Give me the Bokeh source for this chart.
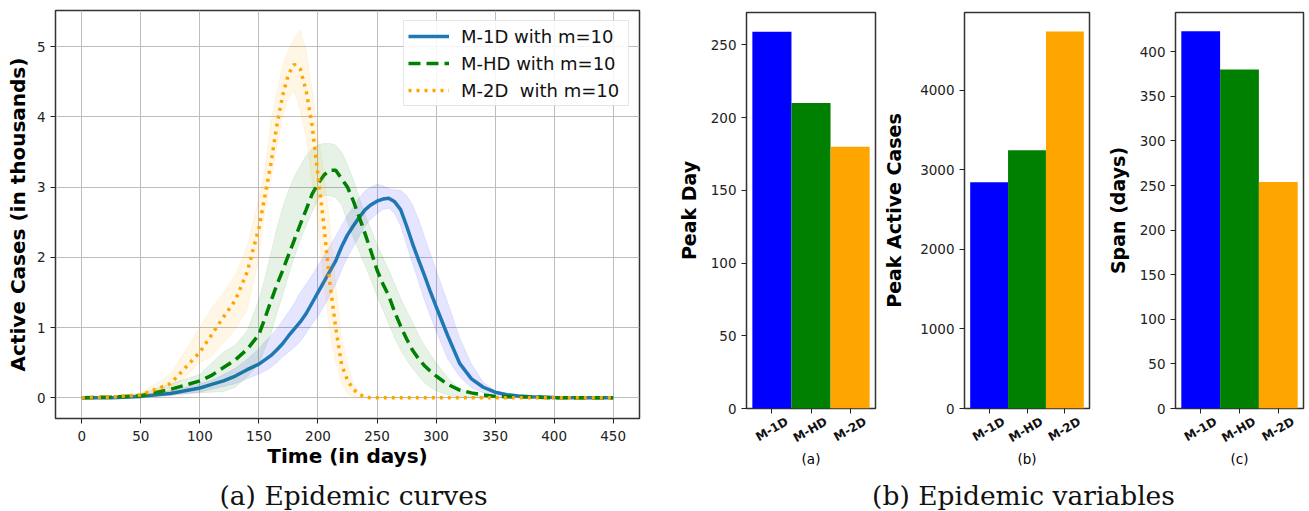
import math
from bokeh.plotting import figure
from bokeh.layouts import row, column
from bokeh.models import Range1d, FixedTicker, Label, LinearAxis
from bokeh.embed import file_html
from bokeh.resources import INLINE

# ---------------- data ----------------
days = [0, 25, 50, 75, 100, 110, 120, 130, 140, 150,
        155, 160, 165, 170, 175, 180, 185, 190, 195, 200,
        205, 210, 215, 220, 225, 230, 235, 240, 245, 250,
        255, 260, 265, 270, 275, 280, 285, 290, 295, 300,
        310, 320, 330, 340, 350, 360, 370, 380, 400, 425, 450]

m1d_mean = [0.0, 0.0, 0.02, 0.06, 0.14, 0.19, 0.24, 0.31, 0.40, 0.48,
            0.54, 0.60, 0.68, 0.77, 0.88, 0.98, 1.08, 1.20, 1.35, 1.50,
            1.65, 1.80, 1.95, 2.15, 2.32, 2.45, 2.57, 2.68, 2.75, 2.80,
            2.83, 2.84, 2.79, 2.68, 2.45, 2.20, 1.97, 1.75, 1.52, 1.30,
            0.88, 0.49, 0.27, 0.15, 0.08, 0.045, 0.025, 0.015, 0.005, 0.0, 0.0]
m1d_upper = [0.0, 0.01, 0.04, 0.10, 0.20, 0.25, 0.33, 0.42, 0.55, 0.70,
             0.80, 0.88, 0.98, 1.10, 1.22, 1.35, 1.50, 1.62, 1.75, 1.88,
             2.02, 2.16, 2.30, 2.45, 2.60, 2.72, 2.85, 2.95, 3.00, 3.04,
             3.02, 2.98, 2.96, 2.96, 2.88, 2.75, 2.55, 2.30, 2.06, 1.82,
             1.35, 0.85, 0.48, 0.22, 0.10, 0.06, 0.03, 0.02, 0.01, 0.0, 0.0]
m1d_lower = [0.0, 0.0, 0.01, 0.03, 0.08, 0.12, 0.16, 0.20, 0.27, 0.34,
             0.38, 0.43, 0.50, 0.58, 0.65, 0.72, 0.80, 0.92, 1.05, 1.16,
             1.30, 1.45, 1.62, 1.82, 2.00, 2.15, 2.30, 2.45, 2.55, 2.62,
             2.68, 2.70, 2.62, 2.45, 2.18, 1.92, 1.66, 1.40, 1.17, 0.95,
             0.55, 0.30, 0.14, 0.07, 0.03, 0.02, 0.01, 0.0, 0.0, 0.0, 0.0]

mhd_mean = [0.0, 0.01, 0.03, 0.12, 0.24, 0.32, 0.43, 0.54, 0.69, 0.90,
            1.13, 1.37, 1.60, 1.81, 2.03, 2.25, 2.47, 2.68, 2.90, 3.05,
            3.17, 3.24, 3.24, 3.12, 3.00, 2.80, 2.57, 2.33, 2.08, 1.82,
            1.62, 1.45, 1.22, 1.02, 0.84, 0.68, 0.56, 0.46, 0.38, 0.31,
            0.19, 0.11, 0.07, 0.04, 0.02, 0.015, 0.01, 0.01, 0.0, 0.0, 0.0]
mhd_upper = [0.0, 0.02, 0.06, 0.20, 0.33, 0.50, 0.65, 0.75, 0.95, 1.40,
             1.70, 2.05, 2.40, 2.70, 2.95, 3.15, 3.30, 3.45, 3.55, 3.60,
             3.62, 3.62, 3.60, 3.50, 3.32, 3.10, 2.85, 2.60, 2.40, 2.18,
             2.00, 1.82, 1.62, 1.42, 1.24, 1.08, 0.90, 0.75, 0.62, 0.50,
             0.28, 0.13, 0.06, 0.02, 0.01, 0.0, 0.0, 0.0, 0.0, 0.0, 0.0]
mhd_lower = [0.0, 0.0, 0.01, 0.05, 0.07, 0.08, 0.09, 0.15, 0.30, 0.48,
             0.70, 0.90, 1.20, 1.45, 1.75, 2.00, 2.25, 2.45, 2.65, 2.82,
             2.88, 2.88, 2.85, 2.75, 2.50, 2.28, 2.08, 1.88, 1.67, 1.45,
             1.25, 1.05, 0.85, 0.68, 0.54, 0.42, 0.31, 0.22, 0.15, 0.10,
             0.04, 0.01, 0.0, 0.0, 0.0, 0.0, 0.0, 0.0, 0.0, 0.0, 0.0]

m2d_mean = [0.0, 0.01, 0.04, 0.20, 0.65, 0.90, 1.15, 1.39, 1.79, 2.42,
            2.87, 3.32, 3.86, 4.30, 4.61, 4.75, 4.68, 4.37, 3.88, 3.17,
            2.45, 1.64, 1.00, 0.47, 0.25, 0.12, 0.05, 0.01, 0.0, 0.0,
            0.0, 0.0, 0.0, 0.0, 0.0, 0.0, 0.0, 0.0, 0.0, 0.0,
            0.0, 0.0, 0.0, 0.0, 0.0, 0.0, 0.0, 0.0, 0.0, 0.0, 0.0]
m2d_upper = [0.0, 0.02, 0.07, 0.33, 1.00, 1.28, 1.50, 1.75, 2.15, 2.85,
             3.25, 3.90, 4.35, 4.72, 4.95, 5.12, 5.24, 4.95, 4.40, 3.75,
             3.20, 2.50, 1.60, 0.85, 0.48, 0.22, 0.08, 0.02, 0.0, 0.0,
             0.0, 0.0, 0.0, 0.0, 0.0, 0.0, 0.0, 0.0, 0.0, 0.0,
             0.0, 0.0, 0.0, 0.0, 0.0, 0.0, 0.0, 0.0, 0.0, 0.0, 0.0]
m2d_lower = [0.0, 0.0, 0.02, 0.10, 0.50, 0.60, 0.78, 0.98, 1.25, 2.00,
             2.65, 3.10, 3.55, 4.00, 4.28, 4.35, 4.10, 3.70, 3.10, 2.45,
             1.60, 0.95, 0.50, 0.20, 0.06, 0.02, 0.0, 0.0, 0.0, 0.0,
             0.0, 0.0, 0.0, 0.0, 0.0, 0.0, 0.0, 0.0, 0.0, 0.0,
             0.0, 0.0, 0.0, 0.0, 0.0, 0.0, 0.0, 0.0, 0.0, 0.0, 0.0]

x_ticks = [0, 50, 100, 150, 200, 250, 300, 350, 400, 450]
y_ticks = [0, 1, 2, 3, 4, 5]

methods = ["M-1D", "M-HD", "M-2D"]
bar_pos = [0, 1, 2]
peak_day = [259, 210, 180]
peak_active = [2842, 3243, 4735]
span_days = [423, 380, 254]
bar_colors = ["#0000ff", "#008000", "#ffa500"]

FONT = "DejaVu Sans"
SERIF = "DejaVu Serif"
TOP_H = 470


def no_frame_align(p):
    try:
        p.frame_align = False
    except Exception:
        pass


def style_axes(p, tick_font="13.5px"):
    for ax in p.axis:
        ax.axis_line_color = None
        ax.major_tick_out = 5
        ax.major_tick_in = 0
        ax.minor_tick_line_color = None
        ax.major_tick_line_color = "#222222"
        ax.major_label_text_font = FONT
        ax.major_label_text_font_size = tick_font
        ax.major_label_text_color = "#222222"
        ax.major_label_standoff = 5
        ax.axis_label_text_font = FONT
        ax.axis_label_text_font_style = "bold"
        ax.axis_label_text_color = "black"
    p.outline_line_color = "#333333"
    p.outline_line_width = 1.5
    p.outline_line_alpha = 1.0
    p.background_fill_color = "white"
    p.border_fill_color = "white"


# ---------------- left: epidemic curves ----------------
pl = figure(width=650, height=TOP_H, title=None,
            x_range=Range1d(-22.3, 472.3), y_range=Range1d(-0.295, 5.515),
            output_backend="svg", toolbar_location=None,
            min_border_left=55, min_border_right=11,
            min_border_top=10, min_border_bottom=TOP_H - 418)
no_frame_align(pl)
style_axes(pl)
pl.xaxis.ticker = FixedTicker(ticks=x_ticks)
pl.yaxis.ticker = FixedTicker(ticks=y_ticks)
pl.xgrid.ticker = FixedTicker(ticks=x_ticks)
pl.ygrid.ticker = FixedTicker(ticks=y_ticks)
for g in (pl.xgrid, pl.ygrid):
    g.grid_line_color = "#bdbdbd"
    g.grid_line_width = 1
pl.xaxis.axis_label = "Time (in days)"
pl.yaxis.axis_label = "Active Cases (in thousands)"
pl.xaxis.axis_label_text_font_size = "20px"
pl.yaxis.axis_label_text_font_size = "20px"
pl.xaxis.major_label_standoff = 7
pl.xaxis.axis_label_standoff = 0
pl.yaxis.axis_label_standoff = 4

series = [
    (m1d_mean, m1d_lower, m1d_upper, "#0000ff", "#1f77b4", "solid", "M-1D with m=10"),
    (mhd_mean, mhd_lower, mhd_upper, "#008000", "#008000", "12 6", "M-HD with m=10"),
    (m2d_mean, m2d_lower, m2d_upper, "#ffa500", "#ffa500", "3 5", "M-2D  with m=10"),
]
for mean, lo, hi, band_col, line_col, dash, lab in series:
    pl.varea(x=days, y1=lo, y2=hi, fill_color=band_col, fill_alpha=0.1)
    pl.line(x=days, y=lo, line_color=band_col, line_alpha=0.08, line_width=1)
    pl.line(x=days, y=hi, line_color=band_col, line_alpha=0.08, line_width=1)
    pl.line(x=days, y=mean, line_color=line_col, line_width=3.5,
            line_dash=dash, legend_label=lab)

lg = pl.legend[0]
lg.location = "top_right"
lg.margin = 10
lg.padding = 4
lg.spacing = 5
lg.glyph_width = 41
lg.glyph_height = 22
lg.label_height = 22
lg.label_width = 163
lg.label_standoff = 12
lg.label_text_font = FONT
lg.label_text_font_size = "18px"
lg.label_text_color = "#111111"
lg.border_line_color = "#cccccc"
lg.border_line_width = 1
lg.background_fill_alpha = 0.85


# ---------------- right: bar panels ----------------
LABEL_SHIFT = 0.39   # moves the rotated names so they are centred under the ticks


def bar_fig(vals, ymax, ticks, ylabel, sub, w, lb, rb, lab_standoff):
    p = figure(width=w, height=TOP_H, title=None,
               x_range=Range1d(-0.65, 2.65), y_range=Range1d(0, ymax),
               output_backend="svg", toolbar_location=None,
               min_border_left=lb, min_border_right=rb,
               min_border_top=12, min_border_bottom=TOP_H - 408)
    no_frame_align(p)
    p.vbar(x=bar_pos, top=vals, width=1.0, fill_color=bar_colors, line_color=None)
    p.xgrid.visible = False
    p.ygrid.visible = False
    p.extra_x_ranges = {"names": Range1d(-0.65 - LABEL_SHIFT, 2.65 - LABEL_SHIFT)}
    names_axis = LinearAxis(x_range_name="names", ticker=FixedTicker(ticks=bar_pos),
                            major_label_overrides={i: m for i, m in zip(bar_pos, methods)})
    p.add_layout(names_axis, "below")
    style_axes(p)
    p.yaxis.ticker = FixedTicker(ticks=ticks)
    p.yaxis.axis_label = ylabel
    p.yaxis.axis_label_text_font_size = "19px"
    p.yaxis.axis_label_standoff = lab_standoff
    tick_axis = p.xaxis[0]
    tick_axis.ticker = FixedTicker(ticks=bar_pos)
    tick_axis.major_label_overrides = {i: "" for i in bar_pos}
    tick_axis.major_label_text_font_size = "1px"
    tick_axis.major_label_standoff = 0
    names_axis.major_tick_line_color = None
    names_axis.major_tick_out = 0
    names_axis.major_label_orientation = math.pi / 6
    names_axis.major_label_text_font_style = "bold"
    names_axis.major_label_text_font_size = "12px"
    names_axis.major_label_text_color = "#111111"
    names_axis.major_label_standoff = 7
    names_axis.axis_label = sub
    names_axis.axis_label_text_font_style = "normal"
    names_axis.axis_label_text_font_size = "13.5px"
    names_axis.axis_label_standoff = -3
    return p


pa = bar_fig(peak_day, 272.2, [0, 50, 100, 150, 200, 250], "Peak Day", "(a)",
             230, 96, 5, 8)
pb = bar_fig(peak_active, 4974, [0, 1000, 2000, 3000, 4000], "Peak Active Cases", "(b)",
             215, 81, 6, 12)
pc = bar_fig(span_days, 444, [0, 50, 100, 150, 200, 250, 300, 350, 400], "Span (days)", "(c)",
             214, 80, 6, 8)


# ---------------- captions ----------------
def caption_fig(w, text, cx, size):
    p = figure(width=w, height=511 - TOP_H, title=None,
               x_range=Range1d(0, w), y_range=Range1d(0, 511 - TOP_H),
               x_axis_type=None, y_axis_type=None,
               output_backend="svg", toolbar_location=None, min_border=0)
    no_frame_align(p)
    p.outline_line_color = None
    p.add_layout(Label(x=cx, y=16, text=text, text_align="center",
                       text_baseline="middle", text_font=SERIF,
                       text_font_size=size, text_color="#111111"))
    return p


cap_a = caption_fig(650, "(a) Epidemic curves", 353, "26.5px")
cap_b = caption_fig(659, "(b) Epidemic variables", 373, "26.5px")

layout = column(row(pl, pa, pb, pc), row(cap_a, cap_b))

open("out.html", "w").write(file_html(layout, INLINE))
